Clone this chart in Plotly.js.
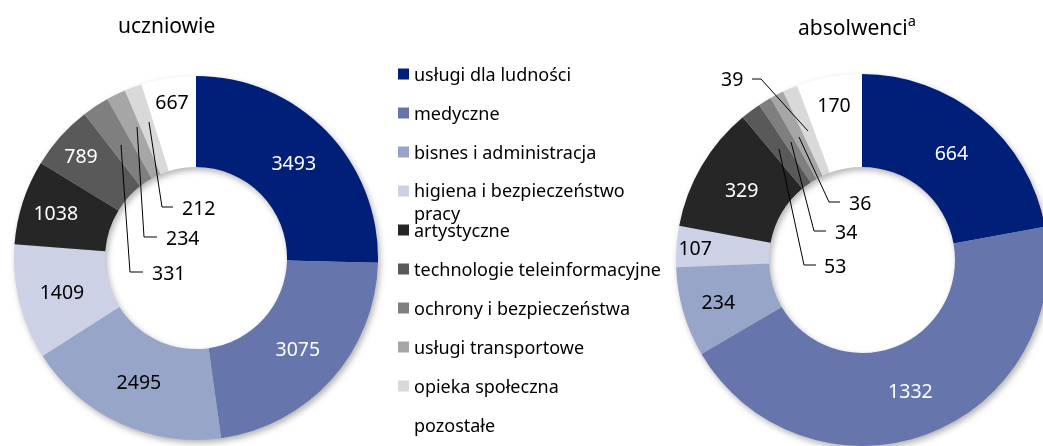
<!DOCTYPE html>
<html>
<head>
<meta charset="utf-8">
<script src="https://cdn.plot.ly/plotly-3.0.1.min.js"></script>
<style>
  html, body { margin: 0; padding: 0; overflow: hidden; background: #fff; }
  #chart { width: 1050px; height: 446px; }
  .pielayer .trace { filter: drop-shadow(2px 3px 3px rgba(0,0,0,0.3)); }
</style>
</head>
<body>
<div id="chart"></div>
<script>
// ---- data ----
const categories = ['usługi dla ludności', 'medyczne', 'bisnes i administracja',
  'higiena i bezpieczeństwo pracy', 'artystyczne', 'technologie teleinformacyjne',
  'ochrony i bezpieczeństwa', 'usługi transportowe', 'opieka społeczna', 'pozostałe'];
const legendLabels = ['usługi dla ludności', 'medyczne', 'bisnes i administracja',
  'higiena i bezpieczeństwo<br>pracy', 'artystyczne', 'technologie teleinformacyjne',
  'ochrony i bezpieczeństwa', 'usługi transportowe', 'opieka społeczna', 'pozostałe'];
const uczniowie = [3493, 3075, 2495, 1409, 1038, 789, 331, 234, 212, 667];
const absolwenci = [664, 1332, 234, 107, 329, 53, 34, 36, 39, 170];
const titles = ['uczniowie', 'absolwenci<sup>a</sup>'];

// ---- styles ----
const colors = ['#001f78', '#6675ac', '#97a5c9', '#ccd1e5', '#262626', '#595959',
  '#7f7f7f', '#a6a6a6', '#d9d9d9', '#ffffff'];
const textColors = ['#ffffff', '#ffffff', '#000000', '#000000', '#ffffff', '#ffffff',
  '#000000', '#000000', '#000000', '#000000'];
const FONT = 'Noto Sans, sans-serif';
const W = 1050, H = 446;
const px = x => x / W;
const py = y => 1 - y / H;

// which slices are labelled inside
const insideLeft = [true, true, true, true, true, true, false, false, false, true];
const insideRight = [true, true, true, true, true, false, false, false, false, true];

function pieTrace(values, inside, dom) {
  return {
    type: 'pie',
    labels: categories,
    values: values,
    sort: false,
    direction: 'clockwise',
    rotation: 0,
    hole: 0.5,
    marker: { colors: colors, line: { width: 0 } },
    text: values.map(String),
    textinfo: 'text',
    textposition: inside.map(b => b ? 'inside' : 'none'),
    insidetextorientation: 'horizontal',
    insidetextfont: { family: FONT, size: 19.5, color: textColors },
    showlegend: false,
    hoverinfo: 'label+value',
    domain: dom
  };
}

const traces = [
  pieTrace(uczniowie, insideLeft, { x: [px(14), px(378)], y: [py(440), py(76)] }),
  pieTrace(absolwenci, insideRight, { x: [px(676), px(1048)], y: [py(446), py(74)] })
];

const annotations = [];
const shapes = [];

// titles
annotations.push({ xref: 'paper', yref: 'paper', x: px(166), y: py(25), text: titles[0],
  showarrow: false, xanchor: 'center', yanchor: 'middle', font: { family: FONT, size: 21, color: '#000' } });
annotations.push({ xref: 'paper', yref: 'paper', x: px(857), y: py(25), text: titles[1],
  showarrow: false, xanchor: 'center', yanchor: 'middle', font: { family: FONT, size: 21, color: '#000' } });

// legend (manual)
const legX = 398, legY0 = 74, legGap = 39, lineH = 21;
categories.forEach((c, i) => {
  const yc = legY0 + i * legGap;
  const lines = legendLabels[i].split('<br>').length;
  annotations.push({ xref: 'paper', yref: 'paper', x: px(legX + 14), y: py(yc + (lines - 1) * lineH / 2),
    text: legendLabels[i], showarrow: false, xanchor: 'left', yanchor: 'middle', align: 'left',
    font: { family: FONT, size: 18, color: '#000' } });
  shapes.push({ type: 'rect', xref: 'paper', yref: 'paper', x0: px(legX), x1: px(legX + 11),
    y0: py(yc - 5.5), y1: py(yc + 5.5), fillcolor: colors[i], line: { width: 0 } });
});

// outside labels with leader lines: [trace values, index, text x, text y, anchor, path points]
const leaders = [
  [uczniowie, 8, 180, 207, 'left', [[149, 122], [162, 207], [173, 207]]],
  [uczniowie, 7, 164, 237, 'left', [[137, 127], [144, 237], [157, 237]]],
  [uczniowie, 6, 150, 272, 'left', [[121, 145], [130, 272], [143, 272]]],
  [absolwenci, 8, 745, 79, 'right', [[752, 79], [761, 79], [808, 131]]],
  [absolwenci, 7, 847, 202, 'left', [[799, 137], [829, 202], [840, 202]]],
  [absolwenci, 6, 833, 231, 'left', [[791, 142], [814, 231], [826, 231]]],
  [absolwenci, 5, 822, 265, 'left', [[779, 149], [804, 265], [816, 265]]]
];
leaders.forEach(([vals, idx, tx, ty, anch, pts]) => {
  annotations.push({ xref: 'paper', yref: 'paper', x: px(tx), y: py(ty), text: String(vals[idx]),
    showarrow: false, xanchor: anch, yanchor: 'middle', font: { family: FONT, size: 19.5, color: '#000' } });
  const path = pts.map((p, k) => (k ? 'L' : 'M') + px(p[0]) + ',' + py(p[1])).join(' ');
  shapes.push({ type: 'path', xref: 'paper', yref: 'paper', path: path, line: { color: '#000', width: 1 } });
});

const layout = {
  width: W, height: H,
  margin: { l: 0, r: 0, t: 0, b: 0 },
  paper_bgcolor: '#ffffff',
  plot_bgcolor: '#ffffff',
  showlegend: false,
  uniformtext: { mode: 'show', minsize: 19.5 },
  annotations: annotations,
  shapes: shapes,
  font: { family: FONT }
};

Plotly.newPlot('chart', traces, layout, { displayModeBar: false, staticPlot: true });
</script>
</body>
</html>
